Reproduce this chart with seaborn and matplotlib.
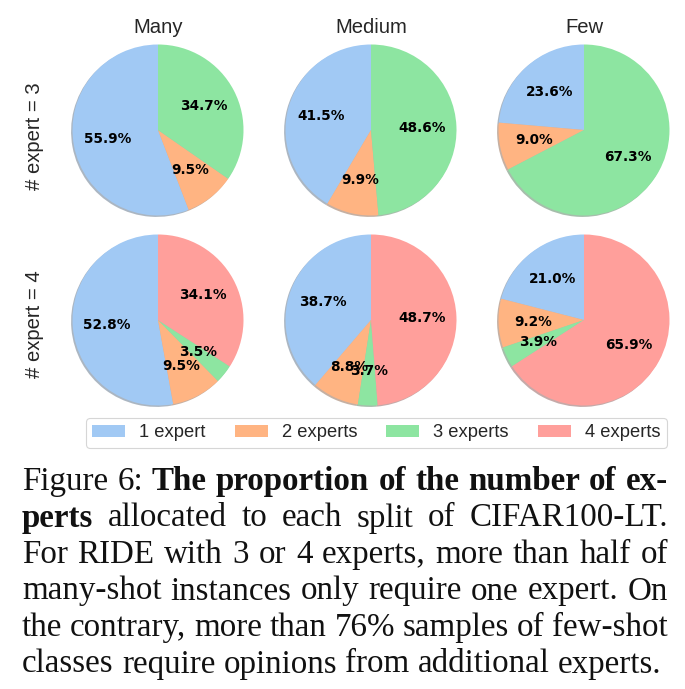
import matplotlib
matplotlib.use("Agg")
import matplotlib.pyplot as plt
import seaborn as sns

# ---------------- data ----------------
splits = ["Many", "Medium", "Few"]
row_labels = ["# expert = 3", "# expert = 4"]
legend_labels = ["1 expert", "2 experts", "3 experts", "4 experts"]

# expert = 3 (1, 2, 3 experts)
many_3 = [55.9, 9.5, 34.7]
medium_3 = [41.5, 9.9, 48.6]
few_3 = [23.6, 9.0, 67.3]
# expert = 4 (1, 2, 3, 4 experts)
many_4 = [52.8, 9.5, 3.5, 34.1]
medium_4 = [38.7, 8.8, 3.7, 48.7]
few_4 = [21.0, 9.2, 3.9, 65.9]

rows = [[many_3, medium_3, few_3], [many_4, medium_4, few_4]]

caption_lines = [
    [("Figure 6:", "normal"), ("The proportion of the number of ex-", "bold")],
    [("perts", "bold"), ("allocated to each split of CIFAR100-LT.", "normal")],
    [("For RIDE with 3 or 4 experts, more than half of", "normal")],
    [("many-shot instances only require one expert. On", "normal")],
    [("the contrary, more than 76% samples of few-shot", "normal")],
    [("classes require opinions from additional experts.", "normal")],
]

# ---------------- style ----------------
sns.set_theme(style="white")
plt.rcParams["font.family"] = ["DejaVu Sans"]
colors = sns.color_palette("pastel")[:4]

W, H = 685, 689
fig = plt.figure(figsize=(W / 100, H / 100), dpi=100)
fig.patch.set_facecolor("white")

centers_x = [158, 371, 584]
centers_y = [130, 320]
R = 85.5
S = R * 2.5

wedges_for_legend = None
for r, row in enumerate(rows):
    for c, vals in enumerate(row):
        cx, cy = centers_x[c], centers_y[r]
        ax = fig.add_axes([(cx - S / 2) / W, (H - cy - S / 2) / H, S / W, S / H])
        total = sum(vals)
        wedges, _, autotexts = ax.pie(
            vals,
            colors=colors[: len(vals)],
            startangle=90,
            counterclock=True,
            shadow=dict(ox=-0.012, oy=-0.012, shade=0.45),
            wedgeprops=dict(linewidth=0, edgecolor="none"),
            autopct=lambda p, t=total: f"{p * t / 100:.1f}%",
            pctdistance=0.6,
            textprops=dict(fontsize=9.8, fontweight="bold", color="black",
                           family="DejaVu Sans"),
        )
        ax.set_xlim(-1.25, 1.25)
        ax.set_ylim(-1.25, 1.25)
        ax.set_aspect("equal")
        ax.axis("off")
        if len(vals) == 4:
            wedges_for_legend = wedges

# titles
for c, name in enumerate(splits):
    fig.text(centers_x[c] / W, 1 - 33 / H, name, ha="center", va="baseline",
             fontsize=14.6, family="Liberation Sans")
# row labels
row_label_y = [136, 324]
for r, lab in enumerate(row_labels):
    fig.text(35 / W, 1 - row_label_y[r] / H, lab, ha="center", va="center",
             rotation=90, fontsize=14.6, family="Liberation Sans")

# legend
leg = fig.legend(wedges_for_legend, legend_labels, loc="upper left",
                 bbox_to_anchor=(86 / W, 1 - 418 / H), ncol=4,
                 prop=dict(family="Liberation Sans", size=13.2),
                 handlelength=1.8, handletextpad=0.75, columnspacing=1.6,
                 borderpad=0.35, borderaxespad=0, frameon=True, fancybox=True,
                 shadow=False)
leg.get_frame().set_edgecolor("#cccccc")
leg.get_frame().set_linewidth(0.8)
for h in leg.legend_handles:
    h.set_alpha(1.0)

# caption (justified)
renderer = fig.canvas.get_renderer()
x0, x1 = 22, 668
base0, step = 490, 36.5

def measure(words, fs):
    ts = [fig.text(0, 0, w, fontsize=fs, family="Liberation Serif", weight=wt)
          for w, wt in words]
    ws = [t.get_window_extent(renderer).width for t in ts]
    sp = fig.text(0, 0, "a a", fontsize=fs, family="Liberation Serif")
    sa = fig.text(0, 0, "aa", fontsize=fs, family="Liberation Serif")
    space = sp.get_window_extent(renderer).width - sa.get_window_extent(renderer).width
    for t in ts + [sp, sa]:
        t.remove()
    return ws, space

split_lines = [[(w, wt) for seg, wt in line for w in seg.split()] for line in caption_lines]
ws, space = measure(split_lines[-1], 20)
natural = sum(ws) + space * (len(ws) - 1)
fs = 20 * (663 - x0) / natural

for i, words in enumerate(split_lines):
    y = 1 - (base0 + i * step) / H
    ws, space = measure(words, fs)
    if i < len(split_lines) - 1:
        gap = (x1 - x0 - sum(ws)) / (len(ws) - 1)
    else:
        gap = space
    x = x0
    for (w, wt), wd in zip(words, ws):
        fig.text(x / W, y, w, fontsize=fs, family="Liberation Serif", weight=wt,
                 va="baseline", ha="left", color="#111111")
        x += wd + gap

fig.savefig("out.png", dpi=100, facecolor="white")
